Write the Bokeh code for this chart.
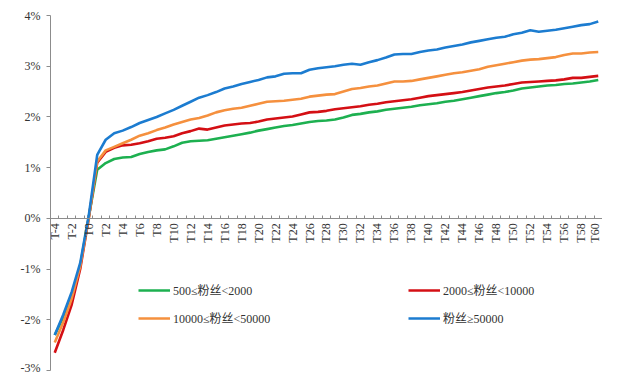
from bokeh.plotting import figure
from bokeh.models import Range1d, PrintfTickFormatter, Legend, LegendItem, FixedTicker
from bokeh.embed import file_html
from bokeh.resources import INLINE

cats = [f"T{i}" for i in range(-4, 61)]
xpos = list(range(len(cats)))
label_ticks = xpos[::2]
tick_labels = {i: cats[i] for i in label_ticks}
boundaries = [i - 0.5 for i in range(len(cats) + 1)]

series_names = ["500≤粉丝<2000", "2000≤粉丝<10000", "10000≤粉丝<50000", "粉丝≥50000"]

green = [-2.30, -1.95, -1.52, -0.93, 0.02,
         0.96, 1.09, 1.17, 1.20, 1.21, 1.27, 1.31, 1.34, 1.36, 1.42,
         1.49, 1.52, 1.53, 1.54, 1.57, 1.60, 1.63, 1.66, 1.69, 1.73,
         1.76, 1.79, 1.82, 1.84, 1.87, 1.90, 1.92, 1.93, 1.95, 1.99,
         2.04, 2.06, 2.09, 2.11, 2.14, 2.16, 2.18, 2.20, 2.23, 2.25,
         2.27, 2.30, 2.32, 2.35, 2.38, 2.41, 2.44, 2.47, 2.49, 2.52,
         2.56, 2.58, 2.60, 2.62, 2.63, 2.65, 2.66, 2.68, 2.70, 2.73]

red = [-2.65, -2.20, -1.70, -1.00, 0.00,
       1.10, 1.31, 1.39, 1.44, 1.45, 1.48, 1.52, 1.57, 1.59, 1.62,
       1.68, 1.72, 1.77, 1.75, 1.79, 1.83, 1.85, 1.87, 1.88, 1.91,
       1.95, 1.97, 1.99, 2.01, 2.05, 2.09, 2.10, 2.12, 2.15, 2.17,
       2.19, 2.21, 2.24, 2.26, 2.29, 2.31, 2.33, 2.35, 2.38, 2.41,
       2.43, 2.45, 2.47, 2.49, 2.52, 2.55, 2.58, 2.60, 2.62, 2.65,
       2.68, 2.69, 2.70, 2.71, 2.72, 2.74, 2.77, 2.77, 2.79, 2.81]

orange = [-2.45, -2.05, -1.58, -0.95, 0.00,
          1.12, 1.34, 1.41, 1.48, 1.55, 1.63, 1.68, 1.74, 1.79, 1.85,
          1.90, 1.95, 1.98, 2.03, 2.09, 2.13, 2.16, 2.18, 2.22, 2.26,
          2.30, 2.31, 2.32, 2.34, 2.36, 2.40, 2.42, 2.44, 2.45, 2.50,
          2.55, 2.57, 2.60, 2.62, 2.66, 2.70, 2.70, 2.71, 2.74, 2.77,
          2.80, 2.83, 2.86, 2.88, 2.91, 2.94, 2.99, 3.02, 3.05, 3.08,
          3.11, 3.13, 3.14, 3.16, 3.18, 3.22, 3.25, 3.25, 3.27, 3.28]

blue = [-2.30, -1.90, -1.45, -0.88, 0.05,
        1.25, 1.55, 1.68, 1.73, 1.80, 1.88, 1.94, 2.00, 2.07, 2.14,
        2.22, 2.30, 2.38, 2.43, 2.49, 2.56, 2.60, 2.65, 2.69, 2.73,
        2.78, 2.80, 2.85, 2.86, 2.86, 2.93, 2.96, 2.98, 3.00, 3.03,
        3.05, 3.03, 3.08, 3.12, 3.17, 3.23, 3.24, 3.24, 3.28, 3.31,
        3.33, 3.37, 3.40, 3.43, 3.47, 3.50, 3.53, 3.56, 3.58, 3.63,
        3.66, 3.71, 3.68, 3.70, 3.72, 3.75, 3.78, 3.81, 3.83, 3.88]

y_ticks = [-3, -2, -1, 0, 1, 2, 3, 4]

colors = ["#1DB050", "#D40F14", "#F5903E", "#1C7CD0"]
FONT = "Liberation Serif, Noto Sans CJK SC"

p = figure(width=602, height=374, output_backend="svg", toolbar_location=None,
           x_range=Range1d(-0.5, len(cats) - 0.5), y_range=Range1d(-3, 4),
           min_border_left=50, min_border_right=0, min_border_top=15, min_border_bottom=4)
p.outline_line_color = None
p.xgrid.visible = False
p.ygrid.visible = False

renderers = []
for data, col in zip([green, red, orange, blue], colors):
    r = p.line(x=xpos, y=data, line_color=col, line_width=2.6)
    renderers.append(r)

# y axis
ya = p.yaxis[0]
ya.ticker = FixedTicker(ticks=y_ticks)
ya.formatter = PrintfTickFormatter(format="%d%%")
ya.axis_line_color = "#8C8C8C"
ya.major_tick_line_color = "#8C8C8C"
ya.major_tick_out = 4
ya.major_tick_in = 0
ya.minor_tick_line_color = None
ya.major_label_text_font = FONT
ya.major_label_text_font_size = "12px"
ya.major_label_text_color = "#333333"
ya.major_label_standoff = 6

# x axis drawn at y=0
xa = p.xaxis[0]
xa.fixed_location = 0
xa.ticker = FixedTicker(ticks=label_ticks, minor_ticks=boundaries)
xa.major_label_overrides = tick_labels
xa.major_label_orientation = 1.5708
xa.axis_line_color = "#8C8C8C"
xa.major_tick_line_color = None
xa.minor_tick_line_color = "#8C8C8C"
xa.minor_tick_out = 0
xa.minor_tick_in = 3
xa.major_tick_out = 0
xa.major_tick_in = 0
xa.major_label_text_font = FONT
xa.major_label_text_font_size = "12px"
xa.major_label_text_color = "#333333"
xa.major_label_standoff = 5

def make_legend(items, loc):
    return Legend(items=items, location=loc, orientation="vertical",
                  glyph_width=32, glyph_height=20, label_standoff=3, spacing=8,
                  padding=0, margin=0, border_line_color=None, background_fill_alpha=0,
                  label_text_font=FONT, label_text_font_size="12px", label_text_color="#333333")

lg1 = make_legend([LegendItem(label=series_names[0], renderers=[renderers[0]]),
                   LegendItem(label=series_names[2], renderers=[renderers[2]])], (88, 42))
lg2 = make_legend([LegendItem(label=series_names[1], renderers=[renderers[1]]),
                   LegendItem(label=series_names[3], renderers=[renderers[3]])], (358, 42))
p.add_layout(lg1, "center")
p.add_layout(lg2, "center")

open("out.html", "w").write(file_html(p, INLINE))
